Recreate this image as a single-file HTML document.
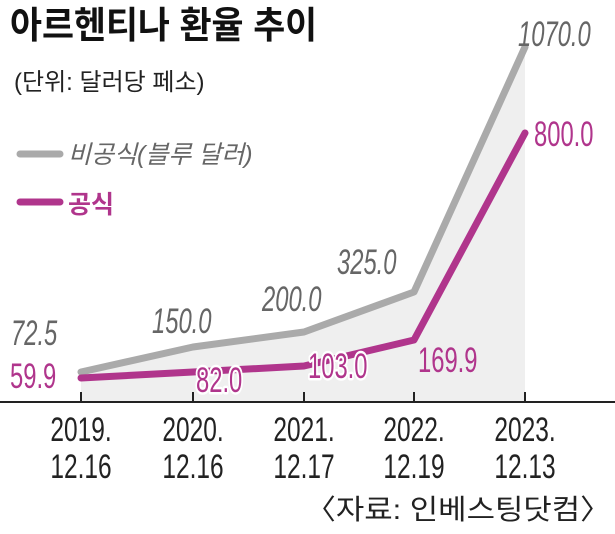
<!DOCTYPE html>
<html><head><meta charset="utf-8"><style>
html,body{margin:0;padding:0;background:#fff;}
svg text{font-family:"Liberation Sans","Noto Sans CJK KR",sans-serif;}
</style></head><body>
<svg width="615" height="529" viewBox="0 0 615 529" xmlns="http://www.w3.org/2000/svg">
<rect width="615" height="529" fill="#fff"/>
<polygon points="81,372 193,347 304,332 414,292 525,47 525,402 81,402" fill="#efefef"/>
<line x1="0" y1="402" x2="615" y2="402" stroke="#222" stroke-width="2"/>
<g stroke="#222" stroke-width="2">
<line x1="81" y1="392" x2="81" y2="402"/><line x1="193" y1="392" x2="193" y2="402"/><line x1="304" y1="392" x2="304" y2="402"/><line x1="414" y1="392" x2="414" y2="402"/><line x1="525" y1="392" x2="525" y2="402"/>
</g>
<polyline points="81,372 193,347 304,332 414,292 525,47" fill="none" stroke="#aaa" stroke-width="7" stroke-linejoin="round" stroke-linecap="round"/>
<polyline points="81,378 193,372 304,366 414,340 525,133" fill="none" stroke="#b0358c" stroke-width="7" stroke-linejoin="round" stroke-linecap="round"/>
<text transform="translate(10,38) scale(0.94,1)" font-size="37" font-weight="bold" fill="#111">아르헨티나 환율 추이</text>
<text x="14" y="90" font-size="24" fill="#222">(단위: 달러당 페소)</text>
<line x1="20" y1="154" x2="60" y2="154" stroke="#aaa" stroke-width="7" stroke-linecap="round"/>
<text x="68" y="163" font-size="25" fill="#666" font-style="italic">비공식(블루 달러)</text>
<line x1="20" y1="202" x2="60" y2="202" stroke="#b0358c" stroke-width="7" stroke-linecap="round"/>
<text x="68" y="213" font-size="25" font-weight="bold" fill="#b0358c">공식</text>
<g font-size="35" font-style="italic" fill="#666">
<text transform="translate(11,345) scale(0.68,1)">72.5</text>
<text transform="translate(152,333) scale(0.68,1)">150.0</text>
<text transform="translate(262,311) scale(0.68,1)">200.0</text>
<text transform="translate(337,274) scale(0.68,1)">325.0</text>
<text transform="translate(518,46) scale(0.68,1)">1070.0</text>
</g>
<g font-size="35" fill="#b0358c">
<text transform="translate(10,388) scale(0.68,1)">59.9</text>
<text transform="translate(418,372) scale(0.68,1)">169.9</text>
<text transform="translate(534,146) scale(0.68,1)">800.0</text>
<g stroke="#fff" stroke-width="5" paint-order="stroke" stroke-linejoin="round">
<text transform="translate(196,392) scale(0.68,1)">82.0</text>
<text transform="translate(308,378) scale(0.68,1)">103.0</text>
</g>
</g>
<g font-size="34" fill="#222" text-anchor="middle">
<text transform="translate(81,441) scale(0.72,1)">2019.</text>
<text transform="translate(81,478) scale(0.72,1)">12.16</text>
<text transform="translate(193,441) scale(0.72,1)">2020.</text>
<text transform="translate(193,478) scale(0.72,1)">12.16</text>
<text transform="translate(304,441) scale(0.72,1)">2021.</text>
<text transform="translate(304,478) scale(0.72,1)">12.17</text>
<text transform="translate(414,441) scale(0.72,1)">2022.</text>
<text transform="translate(414,478) scale(0.72,1)">12.19</text>
<text transform="translate(525,441) scale(0.72,1)">2023.</text>
<text transform="translate(525,478) scale(0.72,1)">12.13</text>
</g>
<text x="305" y="519" font-size="28" fill="#222" textLength="306" lengthAdjust="spacingAndGlyphs">〈자료: 인베스팅닷컴〉</text>
</svg>
</body></html>
